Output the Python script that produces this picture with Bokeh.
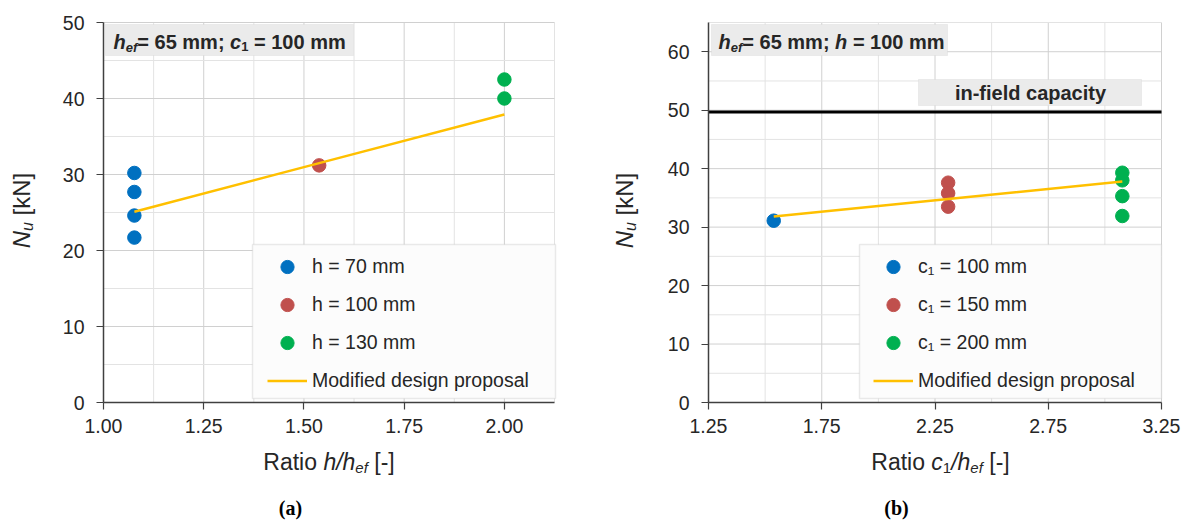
import math
from bokeh.plotting import figure
from bokeh.models import (Range1d, FixedTicker, Label, BoxAnnotation,
                          Legend, LegendItem, PrintfTickFormatter)
from bokeh.layouts import row
from bokeh.embed import file_html
from bokeh.resources import INLINE

# ---------------- data ----------------
# (a) influence of member thickness h, h_ef = 65 mm, c1 = 100 mm
a_h70_ratio = [1.077, 1.077, 1.077, 1.077]
a_h70_Nu = [30.2, 27.7, 24.6, 21.7]
a_h100_ratio = [1.538]
a_h100_Nu = [31.2]
a_h130_ratio = [2.0, 2.0]
a_h130_Nu = [42.5, 40.0]
a_model_ratio = [1.077, 1.538, 2.0]
a_model_Nu = [25.1, 31.5, 37.9]

# (b) influence of edge distance c1, h_ef = 65 mm, h = 100 mm
b_c100_ratio = [1.538]
b_c100_Nu = [31.1]
b_c150_ratio = [2.308, 2.308, 2.308]
b_c150_Nu = [37.6, 35.8, 33.5]
b_c200_ratio = [3.077, 3.077, 3.077, 3.077]
b_c200_Nu = [39.3, 38.0, 35.3, 31.9]
b_model_ratio = [1.538, 2.308, 3.077]
b_model_Nu = [31.8, 34.8, 37.8]
in_field_capacity = 49.7

# axes
a_x_lim = (1.0, 2.125)
a_y_lim = (0, 50)
b_x_lim = (1.25, 3.25)
b_y_lim = (0, 65)
a_xticks = [1.00, 1.25, 1.50, 1.75, 2.00]
a_xminor = [1.125, 1.375, 1.625, 1.875, 2.125]
a_yticks = [0, 10, 20, 30, 40, 50]
a_yminor = [5, 15, 25, 35, 45]
b_xticks = [1.25, 1.75, 2.25, 2.75, 3.25]
b_xminor = [1.5, 2.0, 2.5, 3.0]
b_yticks = [0, 10, 20, 30, 40, 50, 60]
b_yminor = [5, 15, 25, 35, 45, 55, 65]

a_labels = ["h = 70 mm", "h = 100 mm", "h = 130 mm", "Modified design proposal"]
b_labels = ["c\u2081 = 100 mm", "c\u2081 = 150 mm", "c\u2081 = 200 mm", "Modified design proposal"]

BLUE, RED, GREEN, GOLD = "#0070C0", "#C0504D", "#00B050", "#FFC000"
FONT = "Liberation Sans"
TXT = "#262626"
AXIS = "#404040"
GRID_MAJOR = "#d0d0d0"
GRID_MINOR = "#e3e3e3"

# ---------------- text width helpers (Arial metrics) ----------------
REG = {' ': 278, '(': 333, ')': 333, '-': 333, '[': 278, ']': 278, '/': 278, '=': 584,
       ';': 278, '.': 278, 'a': 556, 'c': 500, 'd': 556, 'e': 556, 'f': 278, 'g': 556,
       'h': 556, 'i': 222, 'k': 500, 'l': 222, 'm': 833, 'n': 556, 'o': 556, 'p': 556,
       'r': 333, 's': 500, 't': 278, 'u': 556, 'y': 500, 'N': 722, 'R': 722, 'M': 833}
BOLD = {' ': 278, '=': 584, ';': 333, 'c': 556, 'e': 556, 'f': 333, 'h': 611, 'm': 889}


def tw(s, size, bold=False):
    tab = BOLD if bold else REG
    return sum(tab.get(ch, 556) for ch in s) / 1000.0 * size


FIG_H = 521          # canvas height (page px)
Y0_PX, YTOP_PX = 402, 22   # page px of the plot-area bottom / top
BASE_FIX = 7         # rendered baseline sits this much lower than requested


def make_fig(xlim, ylim, fig_left, fig_w, x0_px, x1_px):
    xs = (x1_px - x0_px) / (xlim[1] - xlim[0])
    ys = (Y0_PX - YTOP_PX) / (ylim[1] - ylim[0])

    def dx(px):
        return xlim[0] + (px - x0_px) / xs

    def dy(py):
        return ylim[0] + (Y0_PX - py) / ys

    p = figure(width=fig_w, height=FIG_H,
               x_range=Range1d(dx(fig_left), dx(fig_left + fig_w)),
               y_range=Range1d(dy(FIG_H), dy(0)),
               output_backend="svg", toolbar_location=None,
               min_border=0, min_border_left=0, min_border_right=0,
               min_border_top=0, min_border_bottom=0,
               outline_line_color=None, background_fill_color="white",
               border_fill_color="white")
    p.grid.visible = False
    p.xaxis.fixed_location = ylim[0]
    p.yaxis.fixed_location = xlim[0]
    p.xaxis.bounds = xlim
    p.yaxis.bounds = ylim
    for ax in (p.xaxis[0], p.yaxis[0]):
        ax.axis_line_color = AXIS
        ax.axis_line_width = 1.5
        ax.major_tick_line_color = AXIS
        ax.major_tick_line_width = 1.2
        ax.major_tick_out = 7
        ax.major_tick_in = 0
        ax.minor_tick_out = 0
        ax.minor_tick_in = 0
        ax.major_label_text_font = FONT
        ax.major_label_text_font_size = "19.5px"
        ax.major_label_text_color = TXT
    p.xaxis.major_label_standoff = 9
    p.yaxis.major_label_standoff = 12
    p.xaxis.formatter = PrintfTickFormatter(format="%.2f")
    p.yaxis.formatter = PrintfTickFormatter(format="%d")
    return p, dx, dy


def add_grid(p, xlim, ylim, xmajor, xminor, ymajor, yminor):
    for vals, col in ((xminor, GRID_MINOR), (xmajor, GRID_MAJOR)):
        v = [t for t in vals if t > xlim[0]]
        p.segment(x0=v, y0=[ylim[0]] * len(v), x1=v, y1=[ylim[1]] * len(v),
                  line_color=col, line_width=1)
    for vals, col in ((yminor, GRID_MINOR), (ymajor, GRID_MAJOR)):
        v = [t for t in vals if t > ylim[0]]
        p.segment(x0=[xlim[0]] * len(v), y0=v, x1=[xlim[1]] * len(v), y1=v,
                  line_color=col, line_width=1)


def add_pieces(p, dx, dy, pieces, start_px, base_px, center=False, rotated=False,
               color=TXT):
    widths = [tw(t, s, "bold" in st) for t, s, st, _ in pieces]
    total = sum(widths)
    if center:
        start_px = start_px - total / 2 if not rotated else start_px + total / 2
    base_px = base_px - BASE_FIX
    pos = 0.0
    for (t, s, st, sub), w in zip(pieces, widths):
        lead = len(t) - len(t.lstrip(" "))
        shift = tw(" " * lead, s, "bold" in st)
        txt = t.strip(" ")
        if not rotated:
            lab = Label(x=dx(start_px), y=dy(base_px), x_offset=pos + shift, y_offset=-sub,
                        text=txt, text_font=FONT, text_font_size=f"{s}px",
                        text_font_style=st, text_color=color,
                        text_baseline="alphabetic", text_align="left")
        else:
            lab = Label(x=dx(base_px), y=dy(start_px), x_offset=sub, y_offset=pos + shift,
                        angle=math.pi / 2, text=txt, text_font=FONT,
                        text_font_size=f"{s}px", text_font_style=st, text_color=color,
                        text_baseline="alphabetic", text_align="left")
        p.add_layout(lab)
        pos += w


def add_box(p, dx, dy, l, r, t, b, fill, line, lw=1.0):
    p.add_layout(BoxAnnotation(left=dx(l), right=dx(r), top=dy(t), bottom=dy(b),
                               fill_color=fill, fill_alpha=1.0,
                               line_color=line, line_width=lw))


def add_legend(p, renderers, labels, loc):
    items = [LegendItem(label=lab, renderers=[rr]) for lab, rr in zip(labels, renderers)]
    leg = Legend(items=items, location=loc, padding=4, spacing=5, margin=0,
                 glyph_width=40, glyph_height=33, label_height=33, label_standoff=5,
                 label_text_font=FONT, label_text_font_size="19.5px",
                 label_text_color=TXT, background_fill_alpha=0.0,
                 border_line_color=None)
    p.add_layout(leg)


def add_single(p, dx, dy, text, x_px, base_px, font, size, style, color):
    p.add_layout(Label(x=dx(x_px), y=dy(base_px - BASE_FIX), text=text, text_font=font,
                       text_font_size=size, text_font_style=style, text_color=color,
                       text_align="center", text_baseline="alphabetic"))


# ---------------- (a) ----------------
A_LEFT, A_W = 0, 598
pa, ax_, ay_ = make_fig(a_x_lim, a_y_lim, A_LEFT, A_W, 103, 554)
pa.xaxis.ticker = FixedTicker(ticks=a_xticks)
pa.yaxis.ticker = FixedTicker(ticks=a_yticks)
add_grid(pa, a_x_lim, a_y_lim, a_xticks, a_xminor, a_yticks, a_yminor)

ra1 = pa.scatter(a_h70_ratio, a_h70_Nu, size=13.5, color=BLUE, marker="circle")
ra2 = pa.scatter(a_h100_ratio, a_h100_Nu, size=13.5, color=RED, marker="circle")
ra3 = pa.scatter(a_h130_ratio, a_h130_Nu, size=13.5, color=GREEN, marker="circle")
ra4 = pa.line(a_model_ratio, a_model_Nu, line_color=GOLD, line_width=2.5)

add_box(pa, ax_, ay_, 252, 555, 244, 398, "#fcfcfc", "#bdbdbd", 1.5)
add_legend(pa, [ra1, ra2, ra3, ra4], a_labels, (267 - A_LEFT, FIG_H - 401 + 4))

add_box(pa, ax_, ay_, 105, 353, 24, 55, "#ebebeb", "#d2d2d2")
add_pieces(pa, ax_, ay_, [("h", 20, "bold italic", 0), ("ef", 13, "bold italic", 6),
                          ("= 65 mm; ", 20, "bold", 0), ("c", 20, "bold italic", 0),
                          ("1", 13, "bold", 5), (" = 100 mm", 20, "bold", 0)], 113, 48)
add_pieces(pa, ax_, ay_, [("Ratio ", 23, "normal", 0), ("h/h", 23, "italic", 0),
                          ("ef", 15, "italic", 6), (" [-]", 23, "normal", 0)],
           328.5, 468, center=True)
add_pieces(pa, ax_, ay_, [("N", 24, "italic", 0), ("u", 16, "italic", 6),
                          (" [kN]", 24, "normal", 0)], 210, 28, center=True, rotated=True)
add_single(pa, ax_, ay_, "(a)", 290, 514, "Liberation Serif", "20px", "bold", "black")

# ---------------- (b) ----------------
B_LEFT, B_W = 598, 590
pb, bx_, by_ = make_fig(b_x_lim, b_y_lim, B_LEFT, B_W, 708, 1161)
pb.xaxis.ticker = FixedTicker(ticks=b_xticks)
pb.yaxis.ticker = FixedTicker(ticks=b_yticks)
add_grid(pb, b_x_lim, b_y_lim, b_xticks, b_xminor, b_yticks, b_yminor)

pb.line(list(b_x_lim), [in_field_capacity, in_field_capacity], line_color="black",
        line_width=3)
rb1 = pb.scatter(b_c100_ratio, b_c100_Nu, size=13.5, color=BLUE, marker="circle")
rb2 = pb.scatter(b_c150_ratio, b_c150_Nu, size=13.5, color=RED, marker="circle")
rb3 = pb.scatter(b_c200_ratio, b_c200_Nu, size=13.5, color=GREEN, marker="circle")
rb4 = pb.line(b_model_ratio, b_model_Nu, line_color=GOLD, line_width=2.5)

add_box(pb, bx_, by_, 859, 1161, 244, 398, "#fcfcfc", "#bdbdbd", 1.5)
add_legend(pb, [rb1, rb2, rb3, rb4], b_labels, (873 - B_LEFT, FIG_H - 401 + 4))

add_box(pb, bx_, by_, 711, 947, 24, 55, "#ebebeb", "#d2d2d2")
add_pieces(pb, bx_, by_, [("h", 20, "bold italic", 0), ("ef", 13, "bold italic", 6),
                          ("= 65 mm; ", 20, "bold", 0), ("h", 20, "bold italic", 0),
                          (" = 100 mm", 20, "bold", 0)], 718, 48)
add_box(pb, bx_, by_, 918, 1141, 79, 105, "#ebebeb", "#d2d2d2")
add_single(pb, bx_, by_, "in-field capacity", 1030, 99, FONT, "20px", "bold", TXT)
add_pieces(pb, bx_, by_, [("Ratio ", 23, "normal", 0), ("c", 23, "italic", 0),
                          ("1", 15, "normal", 6), ("/h", 23, "italic", 0),
                          ("ef", 15, "italic", 6), (" [-]", 23, "normal", 0)],
           940, 468, center=True)
add_pieces(pb, bx_, by_, [("N", 24, "italic", 0), ("u", 16, "italic", 6),
                          (" [kN]", 24, "normal", 0)], 210, 631, center=True, rotated=True)
add_single(pb, bx_, by_, "(b)", 896, 514, "Liberation Serif", "20px", "bold", "black")

layout = row(pa, pb)
open("out.html", "w").write(file_html(layout, INLINE))
